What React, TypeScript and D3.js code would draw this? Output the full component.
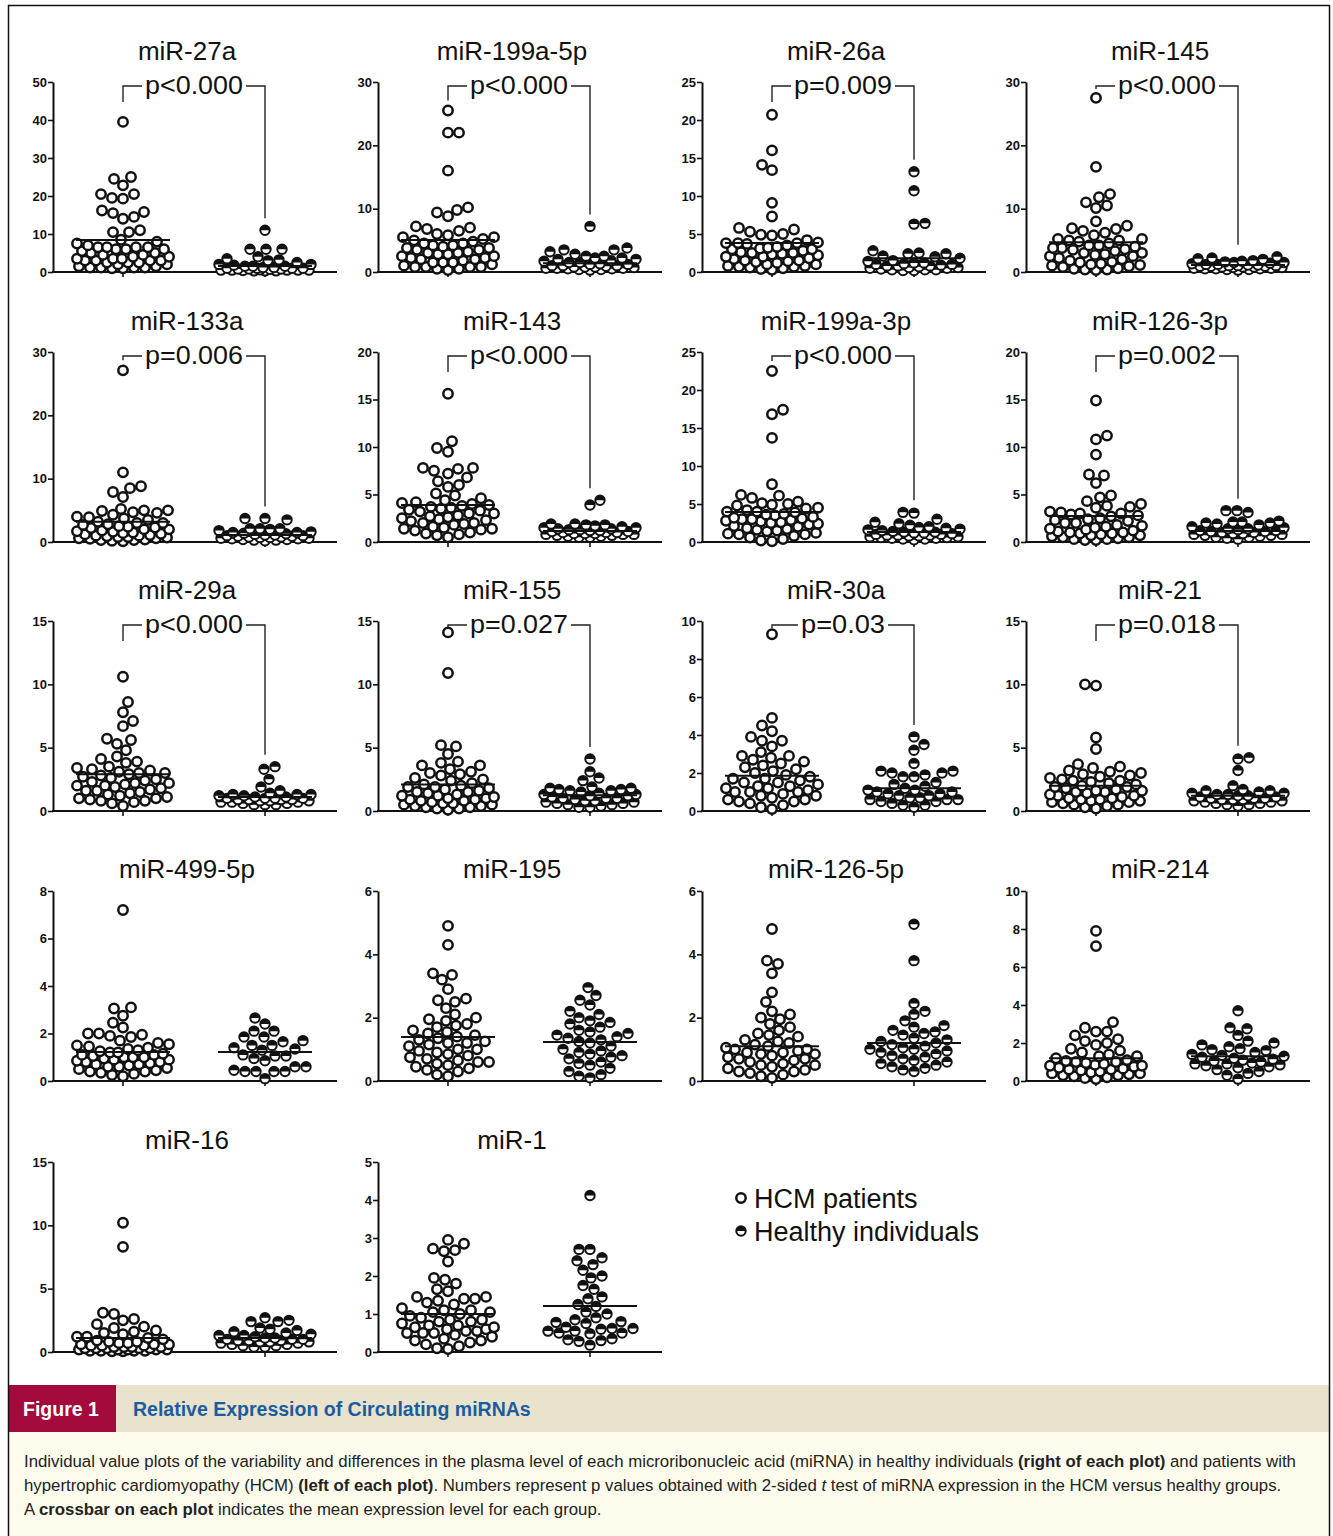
import React, { useEffect, useRef } from "react";
import * as d3 from "d3";

// panel labels and scales
const mirNames = [
  "miR-27a", "miR-199a-5p", "miR-26a", "miR-145",
  "miR-133a", "miR-143", "miR-199a-3p", "miR-126-3p",
  "miR-29a", "miR-155", "miR-30a", "miR-21",
  "miR-499-5p", "miR-195", "miR-126-5p", "miR-214",
  "miR-16", "miR-1",
];
const pLabels = [
  "p<0.000", "p<0.000", "p=0.009", "p<0.000",
  "p=0.006", "p<0.000", "p<0.000", "p=0.002",
  "p<0.000", "p=0.027", "p=0.03", "p=0.018",
  "", "", "", "", "", "",
];
const yMax = [50, 30, 25, 30, 30, 20, 25, 20, 15, 15, 10, 15, 8, 6, 6, 10, 15, 5];
const yStep = [10, 10, 5, 10, 10, 5, 5, 5, 5, 5, 2, 5, 2, 2, 2, 2, 5, 1];
const hcmMeans = [8.4, 5.05, 3.8, 4.7, 3.2, 3.9, 3.95, 2.75, 2.9, 2.1, 1.85, 2.0, 1.22, 1.39, 1.1, 1.2, 1.1, 1.0];
const healthyMeans = [1.6, 1.4, 1.8, 1.1, 1.1, 1.15, 1.3, 1.15, 1.1, 1.25, 1.2, 1.2, 1.22, 1.23, 1.2, 1.3, 1.1, 1.21];

// individual values
const mir27aHcm = [39.5, 25, 24.5, 22.8, 20.5, 20.5, 19.5, 19.3, 16.2, 15.8, 15.5, 14.5, 14, 10.5, 10.5, 11, 8, 7, 6.5, 6.5, 6, 6, 6.5, 6, 5.5, 6.5, 5, 4.5, 4, 4, 3.5, 3, 3, 3.5, 3, 3, 2.5, 2.5, 2, 2, 1.5, 1.5, 1.2, 1.2, 1.2, 1, 1.2, 1, 5, 4.5, 3.5, 2.5, 7.5, 8.5];
const mir27aHealthy = [11, 6, 6, 6, 4, 3.5, 3.2, 3, 2, 2, 1.8, 1.5, 1.5, 1.2, 1.2, 1, 1, 1, 0.8, 0.8, 0.8, 0.5, 0.5, 0.5, 0.5, 0.5, 0.3, 0.3, 0.3, 1.5, 1, 0.7, 2.5, 0.6, 0.4];
const mir199a5pHcm = [25.5, 22, 22, 16, 10.2, 9.8, 9.4, 8.8, 7.2, 7, 6.8, 6.5, 5.8, 5.5, 5.2, 5, 4.8, 4.5, 4.5, 4.2, 4, 3.8, 3.5, 3.5, 3.2, 3, 3, 2.8, 2.5, 2.5, 2.2, 2, 2, 1.8, 1.5, 1.5, 1.2, 1, 0.8, 0.8, 0.8, 0.8, 0.5, 0.5, 0.3, 3.8, 4.2, 2.8, 2.2, 1.5, 5.5, 6];
const mir199a5pHealthy = [7.2, 3.8, 3.5, 3.2, 3.5, 2.8, 2.5, 2.5, 2.2, 2.2, 2, 2, 1.8, 1.5, 1.5, 1.2, 1.2, 1, 1, 1, 0.8, 0.8, 0.8, 0.6, 0.6, 0.6, 0.5, 0.5, 0.4, 0.4, 0.3, 1.3, 1.7, 0.9, 0.7];
const mir26aHcm = [20.7, 16, 14.1, 13.4, 9.1, 7.3, 5.8, 5.6, 5.3, 5, 4.9, 4.8, 3.9, 3.8, 3.8, 3.7, 3.8, 3.5, 3.2, 3.1, 3, 3, 2.8, 2.5, 2.5, 2.3, 2.2, 2, 2, 1.8, 1.5, 1.5, 1.4, 1.3, 1.2, 1, 1, 0.8, 0.8, 0.7, 0.7, 0.6, 0.5, 0.4, 0.3, 2.6, 2.4, 1.7, 4.2, 3.3];
const mir26aHealthy = [13.2, 10.7, 6.3, 6.4, 2.8, 2.5, 2.4, 2.4, 2.1, 2, 1.8, 1.5, 1.2, 1.2, 1, 1, 0.8, 0.8, 0.8, 0.6, 0.6, 0.5, 0.5, 0.4, 0.3, 0.3, 0.3, 0.2, 0.2, 1.4, 1.1, 0.7, 0.9];
const mir145Hcm = [27.5, 16.6, 12.3, 11.8, 11, 10.5, 10.1, 8, 7.3, 6.9, 6.8, 6.5, 6.2, 5.8, 5.2, 5.2, 5, 5, 4.8, 4.5, 4.2, 4, 3.8, 3.8, 3.5, 3.3, 3, 3, 2.8, 2.5, 2.5, 2.2, 2, 1.8, 1.5, 1.3, 1.2, 1.1, 1, 0.8, 0.6, 0.5, 0.4, 0.4, 0.3, 3.6, 2.7, 1.6, 4.2, 0.9];
const mir145Healthy = [2.4, 2.2, 2.1, 2, 1.8, 1.7, 1.6, 1.5, 1.5, 1.4, 1.3, 1.2, 1.2, 1.1, 1, 1, 1, 0.9, 0.9, 0.8, 0.8, 0.8, 0.7, 0.7, 0.6, 0.6, 0.5, 0.5, 0.5, 0.4, 0.4, 0.3, 1.1, 0.9];
const mir133aHcm = [27.1, 11, 8.8, 8.5, 7.9, 7.1, 5.2, 5, 5, 4.9, 4.7, 4.6, 4.3, 4, 3.9, 3.7, 3.5, 3.2, 3, 3, 2.8, 2.7, 2.5, 2.4, 2.2, 2, 2, 1.8, 1.6, 1.5, 1.4, 1.3, 1.2, 1, 1, 0.9, 0.8, 0.7, 0.6, 0.6, 0.5, 0.4, 0.3, 0.3, 0.2, 0.1, 1.7, 2.3, 1.1, 0.8];
const mir133aHealthy = [3.7, 3.5, 3.7, 2.1, 2.1, 2.1, 2, 1.8, 1.5, 1.5, 1.4, 1.3, 1.2, 1.1, 1, 1, 0.9, 0.8, 0.8, 0.7, 0.7, 0.6, 0.6, 0.5, 0.5, 0.4, 0.4, 0.3, 0.3, 0.2, 1.6, 1.1, 0.9];
const mir143Hcm = [15.6, 10.6, 9.9, 9.5, 7.8, 7.8, 7.7, 7.5, 7.2, 6.8, 6.4, 6, 5.8, 5.1, 4.9, 4.6, 4.4, 4.2, 4.1, 4, 3.9, 3.8, 3.7, 3.6, 3.5, 3.3, 3.2, 3, 3, 2.8, 2.7, 2.6, 2.5, 2.3, 2.2, 2, 2, 1.9, 1.8, 1.6, 1.5, 1.4, 1.4, 1.3, 1.2, 1, 0.9, 0.8, 0.7, 0.5, 2.4, 3.4];
const mir143Healthy = [4.4, 3.9, 1.9, 1.9, 1.8, 1.8, 1.7, 1.6, 1.5, 1.5, 1.4, 1.3, 1.3, 1.2, 1.2, 1.1, 1, 1, 1, 0.9, 0.9, 0.8, 0.8, 0.8, 0.7, 0.7, 0.6, 0.6, 0.5, 0.5, 1.1, 1.4, 0.9];
const mir199a3pHcm = [22.5, 17.4, 16.8, 13.7, 7.6, 6.2, 6.1, 5.8, 5.3, 5.1, 5, 4.9, 4.8, 4.5, 4.2, 4, 4, 3.9, 3.7, 3.5, 3.3, 3.2, 3, 3, 2.8, 2.7, 2.6, 2.5, 2.3, 2.1, 2, 1.8, 1.7, 1.5, 1.4, 1.2, 1.1, 1, 1, 0.8, 0.6, 0.4, 0.2, 0.1, 2.4, 3.6, 1.6, 2.9, 4.4, 3.1];
const mir199a3pHealthy = [3.9, 3.8, 3, 2.6, 2.4, 2.2, 2, 1.9, 1.8, 1.7, 1.6, 1.5, 1.4, 1.3, 1.2, 1.1, 1, 1, 0.9, 0.9, 0.8, 0.8, 0.7, 0.7, 0.6, 0.6, 0.5, 0.5, 0.4, 0.4, 0.3, 1.2, 0.9, 1.3];
const mir126_3pHcm = [14.9, 11.2, 10.8, 9.2, 7.1, 7, 6.2, 4.9, 4.7, 4.3, 4, 3.8, 3.7, 3.6, 3.2, 3.1, 3, 3, 2.9, 2.8, 2.7, 2.5, 2.4, 2.2, 2, 2, 1.8, 1.7, 1.5, 1.4, 1.3, 1.2, 1, 1, 0.9, 0.8, 0.7, 0.7, 0.6, 0.5, 0.5, 0.4, 0.3, 0.3, 0.2, 0.2, 1.6, 2.3, 1.1, 0.9];
const mir126_3pHealthy = [3.3, 3.3, 3.1, 2.2, 2.1, 2.1, 2, 2, 1.9, 1.8, 1.6, 1.5, 1.4, 1.3, 1.2, 1.2, 1.1, 1, 1, 0.9, 0.9, 0.8, 0.8, 0.7, 0.7, 0.6, 0.5, 0.5, 0.4, 0.3, 1.4, 1.1];
const mir29aHcm = [10.6, 8.6, 7.8, 7.1, 6.7, 5.7, 5.6, 5.3, 4.8, 4.3, 4.1, 3.9, 3.8, 3.5, 3.4, 3.3, 3.2, 3.1, 3, 3, 2.9, 2.8, 2.7, 2.6, 2.5, 2.4, 2.3, 2.2, 2.2, 2, 2, 1.9, 1.8, 1.7, 1.6, 1.5, 1.4, 1.3, 1.2, 1.1, 1, 1, 0.9, 0.8, 0.8, 0.7, 0.6, 0.4, 2.1, 1.6];
const mir29aHealthy = [3.5, 3.3, 2.5, 1.9, 1.6, 1.4, 1.3, 1.3, 1.3, 1.2, 1.2, 1.1, 1.1, 1, 1, 1, 0.9, 0.9, 0.9, 0.8, 0.8, 0.8, 0.7, 0.7, 0.7, 0.6, 0.6, 0.5, 0.5, 0.5, 1, 0.9];
const mir155Hcm = [14.1, 10.9, 5.2, 5.1, 4.5, 3.9, 3.8, 3.6, 3.6, 3.3, 3.1, 3, 2.9, 2.8, 2.6, 2.5, 2.4, 2.2, 2.1, 2, 1.9, 1.9, 1.8, 1.7, 1.6, 1.5, 1.4, 1.3, 1.2, 1.1, 1, 1, 0.9, 0.9, 0.8, 0.7, 0.6, 0.6, 0.5, 0.5, 0.4, 0.4, 0.3, 0.3, 0.2, 0.2, 0.1, 1.2, 1.5, 0.8];
const mir155Healthy = [4.1, 3.1, 2.6, 2.4, 1.9, 1.8, 1.8, 1.7, 1.7, 1.6, 1.6, 1.5, 1.4, 1.3, 1.2, 1.2, 1.1, 1, 1, 0.9, 0.8, 0.8, 0.7, 0.7, 0.6, 0.6, 0.5, 0.5, 0.4, 0.3, 0.3, 1.3, 1];
const mir30aHcm = [9.3, 4.9, 4.5, 4.2, 3.9, 3.7, 3.7, 3.4, 3.1, 2.9, 2.9, 2.8, 2.7, 2.6, 2.5, 2.4, 2.3, 2.2, 2.1, 2, 1.9, 1.8, 1.7, 1.7, 1.6, 1.5, 1.4, 1.3, 1.2, 1.2, 1.1, 1, 1, 0.9, 0.8, 0.8, 0.7, 0.6, 0.5, 0.5, 0.4, 0.3, 0.2, 0.1, 1.3, 1.5, 1, 0.6];
const mir30aHealthy = [3.9, 3.5, 3.2, 2.5, 2.1, 2.1, 2, 2, 1.9, 1.8, 1.8, 1.5, 1.4, 1.3, 1.2, 1.1, 1, 1, 0.9, 0.9, 0.8, 0.8, 0.7, 0.7, 0.6, 0.6, 0.5, 0.5, 0.4, 0.3, 0.3, 0.2, 1.1, 0.6];
const mir21Hcm = [10, 9.9, 5.8, 4.9, 3.7, 3.5, 3.4, 3.2, 3.1, 3, 2.9, 2.8, 2.7, 2.6, 2.5, 2.4, 2.3, 2.2, 2.1, 2, 1.9, 1.9, 1.8, 1.7, 1.6, 1.5, 1.5, 1.4, 1.3, 1.2, 1.1, 1, 1, 0.9, 0.9, 0.8, 0.7, 0.7, 0.6, 0.5, 0.5, 0.4, 0.3, 0.2, 1.2, 1.6, 2.4, 0.8];
const mir21Healthy = [4.2, 4.1, 3.2, 2, 1.7, 1.6, 1.6, 1.5, 1.4, 1.4, 1.3, 1.3, 1.2, 1.2, 1.1, 1, 1, 1, 0.9, 0.9, 0.8, 0.8, 0.7, 0.7, 0.6, 0.6, 0.5, 0.5, 0.4, 1.1, 0.9];
const mir499Hcm = [7.2, 3.1, 3.05, 2.75, 2.45, 2.25, 2, 2, 1.95, 1.9, 1.85, 1.7, 1.6, 1.55, 1.5, 1.45, 1.4, 1.35, 1.3, 1.25, 1.2, 1.15, 1.1, 1.1, 1.05, 1, 1, 0.95, 0.9, 0.9, 0.85, 0.8, 0.8, 0.75, 0.7, 0.65, 0.6, 0.6, 0.55, 0.5, 0.45, 0.4, 0.4, 0.35, 0.3, 0.25, 0.2, 1.0, 0.7, 1.2];
const mir499Healthy = [2.65, 2.4, 2.1, 2.1, 1.85, 1.85, 1.7, 1.65, 1.5, 1.5, 1.4, 1.35, 1.3, 1.1, 1.05, 1.05, 0.95, 0.85, 0.6, 0.6, 0.45, 0.4, 0.4, 0.4, 0.4, 0.1];
const mir195Hcm = [4.9, 4.3, 3.4, 3.35, 3.2, 2.9, 2.6, 2.55, 2.5, 2.3, 2.1, 2, 1.95, 1.9, 1.8, 1.75, 1.7, 1.6, 1.55, 1.5, 1.45, 1.4, 1.3, 1.25, 1.2, 1.15, 1.1, 1, 1, 0.95, 0.9, 0.85, 0.8, 0.75, 0.7, 0.65, 0.6, 0.55, 0.5, 0.45, 0.4, 0.35, 0.3, 0.2, 0.15, 1.2, 1.35, 0.6];
const mir195Healthy = [2.95, 2.7, 2.55, 2.4, 2.2, 2.1, 2, 1.9, 1.85, 1.8, 1.7, 1.6, 1.55, 1.5, 1.4, 1.35, 1.3, 1.25, 1.2, 1.1, 1, 0.95, 0.9, 0.85, 0.8, 0.7, 0.6, 0.55, 0.5, 0.4, 0.3, 0.2, 0.15, 0.1, 1.45, 0.75];
const mir126_5pHcm = [4.8, 3.8, 3.7, 3.4, 2.8, 2.5, 2.2, 2.1, 2, 1.95, 1.8, 1.7, 1.6, 1.5, 1.45, 1.4, 1.3, 1.25, 1.2, 1.1, 1.05, 1, 0.95, 0.9, 0.9, 0.85, 0.8, 0.75, 0.7, 0.65, 0.6, 0.55, 0.5, 0.45, 0.4, 0.35, 0.3, 0.3, 0.25, 0.2, 0.15, 0.1, 1.0, 0.7, 0.5, 1.15, 0.85];
const mir126_5pHealthy = [4.95, 3.8, 2.45, 2.2, 2.1, 1.9, 1.75, 1.7, 1.6, 1.55, 1.5, 1.45, 1.35, 1.3, 1.2, 1.15, 1.1, 1.05, 1, 0.95, 0.9, 0.85, 0.8, 0.75, 0.7, 0.65, 0.6, 0.55, 0.5, 0.45, 0.4, 0.35, 0.3, 1.25, 1.0];
const mir214Hcm = [7.9, 7.1, 3.1, 2.8, 2.6, 2.6, 2.4, 2.2, 2.1, 2, 1.9, 1.7, 1.6, 1.5, 1.4, 1.3, 1.2, 1.1, 1.05, 1, 0.95, 0.9, 0.85, 0.8, 0.75, 0.7, 0.65, 0.6, 0.55, 0.5, 0.45, 0.4, 0.35, 0.3, 0.25, 0.2, 0.15, 0.1, 0.6, 0.8, 1.0, 0.4, 1.3, 0.3];
const mir214Healthy = [3.7, 2.8, 2.75, 2.4, 2.1, 2, 1.9, 1.8, 1.7, 1.65, 1.6, 1.5, 1.4, 1.35, 1.3, 1.2, 1.15, 1.1, 1.05, 1, 0.95, 0.9, 0.85, 0.8, 0.75, 0.7, 0.6, 0.5, 0.4, 0.3, 0.1, 1.25, 0.9];
const mir16Hcm = [10.2, 8.3, 3.1, 3, 2.6, 2.5, 2.2, 2, 1.9, 1.7, 1.6, 1.5, 1.4, 1.2, 1.1, 1, 0.9, 0.8, 0.8, 0.7, 0.7, 0.6, 0.6, 0.5, 0.5, 0.5, 0.4, 0.4, 0.4, 0.3, 0.3, 0.3, 0.3, 0.2, 0.2, 0.2, 0.2, 0.1, 0.1, 0.1, 0.1, 0.05, 0.05, 0.6, 0.3, 0.2, 0.4, 1.2];
const mir16Healthy = [2.7, 2.5, 2.4, 2.4, 1.9, 1.8, 1.7, 1.6, 1.5, 1.4, 1.3, 1.3, 1.2, 1.1, 1.1, 1, 1, 0.9, 0.9, 0.8, 0.8, 0.8, 0.7, 0.7, 0.6, 0.6, 0.5, 0.5, 0.4, 0.4, 1, 0.9];
const mir1Hcm = [2.95, 2.85, 2.72, 2.68, 2.65, 2.38, 1.95, 1.9, 1.8, 1.65, 1.6, 1.45, 1.45, 1.4, 1.4, 1.35, 1.3, 1.25, 1.15, 1.1, 1.1, 1.05, 1.05, 1, 0.95, 0.9, 0.85, 0.8, 0.8, 0.75, 0.7, 0.7, 0.65, 0.65, 0.6, 0.55, 0.55, 0.5, 0.5, 0.45, 0.4, 0.35, 0.3, 0.3, 0.25, 0.2, 0.15, 0.1, 0.08, 0.6, 0.85, 0.5];
const mir1Healthy = [4.12, 2.7, 2.7, 2.48, 2.4, 2.3, 2.15, 2, 1.95, 1.75, 1.65, 1.45, 1.4, 1.25, 1.2, 1.05, 1, 0.9, 0.85, 0.8, 0.78, 0.75, 0.65, 0.62, 0.62, 0.6, 0.55, 0.55, 0.5, 0.5, 0.48, 0.35, 0.32, 0.3, 0.28, 0.18];

const hcmValues = [
  mir27aHcm, mir199a5pHcm, mir26aHcm, mir145Hcm,
  mir133aHcm, mir143Hcm, mir199a3pHcm, mir126_3pHcm,
  mir29aHcm, mir155Hcm, mir30aHcm, mir21Hcm,
  mir499Hcm, mir195Hcm, mir126_5pHcm, mir214Hcm,
  mir16Hcm, mir1Hcm,
];
const healthyValues = [
  mir27aHealthy, mir199a5pHealthy, mir26aHealthy, mir145Healthy,
  mir133aHealthy, mir143Healthy, mir199a3pHealthy, mir126_3pHealthy,
  mir29aHealthy, mir155Healthy, mir30aHealthy, mir21Healthy,
  mir499Healthy, mir195Healthy, mir126_5pHealthy, mir214Healthy,
  mir16Healthy, mir1Healthy,
];
const groups = ["HCM", "Healthy"];
const legendLabels = ["HCM patients", "Healthy individuals"];

const W = 1333;
const H = 1536;
const colX = [53, 378, 702, 1026];
const rowBase = [272, 542, 811, 1081, 1352];
const axisW = 284;
const plotH = 190;
const R = 4.7;
const FONT = "'Liberation Sans', Arial, Helvetica, sans-serif";

// simple beeswarm: lowest values placed first, as close to the centre as possible
function swarm(vals: number[], y: (v: number) => number, maxHalf: number) {
  const d = 2 * R + 1.6;
  const pts = vals.map((v) => ({ v, y: y(v), x: 0 })).sort((a, b) => b.y - a.y);
  const placed: { x: number; y: number }[] = [];
  const offsets: number[] = [0];
  for (let k = 1; k <= maxHalf; k++) offsets.push(k, -k);
  pts.forEach((p, i) => {
    let best = 0;
    let bestScore = -1;
    let found = false;
    for (const off of offsets) {
      const o = i % 2 ? -off : off;
      let minD = Infinity;
      for (const q of placed) {
        const dy = q.y - p.y;
        if (Math.abs(dy) >= d) continue;
        const dist = Math.hypot(q.x - o, dy);
        if (dist < minD) minD = dist;
      }
      if (minD >= d) {
        best = o;
        found = true;
        break;
      }
      if (minD > bestScore) {
        bestScore = minD;
        best = o;
      }
    }
    if (!found && bestScore < 0) best = 0;
    p.x = best;
    placed.push({ x: best, y: p.y });
  });
  return pts;
}

export default function App() {
  const ref = useRef<SVGSVGElement>(null);

  useEffect(() => {
    const svg = d3.select(ref.current);
    svg.selectAll("*").remove();

    svg.append("rect").attr("width", W).attr("height", H).attr("fill", "#fff");

    mirNames.forEach((name, i) => {
      const col = i % 4;
      const row = Math.floor(i / 4);
      const x0 = colX[col];
      const base = rowBase[row];
      const top = base - plotH;
      const g = svg.append("g");

      const y = d3.scaleLinear().domain([0, yMax[i]]).range([base, top]);
      const x = d3.scalePoint().domain(groups).range([x0 + 70, x0 + 212]);

      // y axis
      const ya = g
        .append("g")
        .attr("transform", `translate(${x0},0)`)
        .call(
          d3
            .axisLeft(y)
            .tickValues(d3.range(0, yMax[i] + yStep[i] / 2, yStep[i]))
            .tickSize(5)
            .tickSizeOuter(0)
            .tickFormat(d3.format("d"))
        );
      ya.select(".domain").attr("stroke", "#111").attr("stroke-width", 2);
      ya.selectAll(".tick line").attr("stroke", "#111").attr("stroke-width", 1.6);
      ya.selectAll(".tick text")
        .attr("font-family", FONT)
        .attr("font-weight", "bold")
        .attr("font-size", 13)
        .attr("fill", "#111")
        .attr("x", -6);

      // x axis
      g.append("line")
        .attr("x1", x0 - 1)
        .attr("x2", x0 + axisW)
        .attr("y1", base)
        .attr("y2", base)
        .attr("stroke", "#111")
        .attr("stroke-width", 2);
      groups.forEach((gr) => {
        g.append("line")
          .attr("x1", x(gr)!)
          .attr("x2", x(gr)!)
          .attr("y1", base)
          .attr("y2", base + 5)
          .attr("stroke", "#111")
          .attr("stroke-width", 1.6);
      });

      // title
      const hasP = pLabels[i] !== "";
      g.append("text")
        .attr("x", (x("HCM")! + x("Healthy")!) / 2 - 7)
        .attr("y", hasP ? top - 22 : top - 13)
        .attr("text-anchor", "middle")
        .attr("font-family", FONT)
        .attr("font-size", 26)
        .attr("fill", "#111")
        .text(name);

      // points
      const hcmPts = swarm(hcmValues[i], y, 46);
      const healthyPts = swarm(healthyValues[i], y, 46);
      hcmPts.forEach((p) => {
        g.append("circle")
          .attr("cx", x("HCM")! + p.x)
          .attr("cy", p.y)
          .attr("r", R)
          .attr("fill", "#fff")
          .attr("stroke", "#111")
          .attr("stroke-width", 2.5);
      });
      healthyPts.forEach((p) => {
        const cx = x("Healthy")! + p.x;
        g.append("circle")
          .attr("cx", cx)
          .attr("cy", p.y)
          .attr("r", R)
          .attr("fill", "#fff")
          .attr("stroke", "#111")
          .attr("stroke-width", 2);
        g.append("path")
          .attr("d", `M${cx - R},${p.y} A${R},${R} 0 0 1 ${cx + R},${p.y} Z`)
          .attr("fill", "#111");
      });

      // mean crossbars
      [
        ["HCM", hcmMeans[i]],
        ["Healthy", healthyMeans[i]],
      ].forEach(([gr, m]) => {
        const cx = x(gr as string)!;
        g.append("line")
          .attr("x1", cx - 47)
          .attr("x2", cx + 47)
          .attr("y1", y(m as number))
          .attr("y2", y(m as number))
          .attr("stroke", "#111")
          .attr("stroke-width", 2);
      });

      // p-value bracket
      if (hasP) {
        const by = top + 4;
        const c1 = x("HCM")!;
        const c2 = x("Healthy")!;
        const mid = (c1 + c2) / 2;
        const leftEnd = Math.max(by + 3, Math.min(by + 16, y(d3.max(hcmValues[i])!) - 10));
        const rightEnd = y(d3.max(healthyValues[i])!) - 12;
        g.append("path")
          .attr("d", `M${c1},${leftEnd} V${by} H${c2} V${rightEnd}`)
          .attr("fill", "none")
          .attr("stroke", "#222")
          .attr("stroke-width", 1.4);
        const tw = pLabels[i].length * 14;
        g.append("rect")
          .attr("x", mid - tw / 2 - 3)
          .attr("y", by - 6)
          .attr("width", tw + 6)
          .attr("height", 12)
          .attr("fill", "#fff");
        g.append("text")
          .attr("x", mid)
          .attr("y", top + 12)
          .attr("text-anchor", "middle")
          .attr("font-family", FONT)
          .attr("font-size", 26)
          .attr("textLength", tw)
          .attr("lengthAdjust", "spacingAndGlyphs")
          .attr("fill", "#111")
          .text(pLabels[i]);
      }
    });

    // legend
    legendLabels.forEach((lab, k) => {
      const ly = 1198 + k * 33;
      const lx = 741;
      svg.append("circle")
        .attr("cx", lx)
        .attr("cy", ly)
        .attr("r", R)
        .attr("fill", "#fff")
        .attr("stroke", "#111")
        .attr("stroke-width", k === 0 ? 2.5 : 2);
      if (k === 1) {
        svg.append("path")
          .attr("d", `M${lx - R},${ly} A${R},${R} 0 0 1 ${lx + R},${ly} Z`)
          .attr("fill", "#111");
      }
      svg.append("text")
        .attr("x", lx + 13)
        .attr("y", ly + 10)
        .attr("font-family", FONT)
        .attr("font-size", 27)
        .attr("fill", "#111")
        .text(lab);
    });

    // caption
    svg.append("rect").attr("x", 8).attr("y", 1385).attr("width", 1322).attr("height", 47).attr("fill", "#e9e2cd");
    svg.append("rect").attr("x", 8).attr("y", 1385).attr("width", 108).attr("height", 47).attr("fill", "#a50a3c");
    svg.append("rect").attr("x", 8).attr("y", 1432).attr("width", 1322).attr("height", 110).attr("fill", "#fdfbeb");
    svg.append("text")
      .attr("x", 23)
      .attr("y", 1416)
      .attr("font-family", FONT)
      .attr("font-weight", "bold")
      .attr("font-size", 19.5)
      .attr("fill", "#fff")
      .text("Figure 1");
    svg.append("text")
      .attr("x", 133)
      .attr("y", 1416)
      .attr("font-family", FONT)
      .attr("font-weight", "bold")
      .attr("font-size", 19.5)
      .attr("fill", "#1b5c9f")
      .text("Relative Expression of Circulating miRNAs");

    const lines: [string, string][][] = [
      [
        ["Individual value plots of the variability and differences in the plasma level of each microribonucleic acid (miRNA) in healthy individuals ", "normal"],
        ["(right of each plot)", "bold"],
        [" and patients with", "normal"],
      ],
      [
        ["hypertrophic cardiomyopathy (HCM) ", "normal"],
        ["(left of each plot)", "bold"],
        [". Numbers represent p values obtained with 2-sided ", "normal"],
        ["t", "italic"],
        [" test of miRNA expression in the HCM versus healthy groups.", "normal"],
      ],
      [
        ["A ", "normal"],
        ["crossbar on each plot", "bold"],
        [" indicates the mean expression level for each group.", "normal"],
      ],
    ];
    lines.forEach((parts, k) => {
      const t = svg.append("text")
        .attr("x", 24)
        .attr("y", 1467 + k * 24)
        .attr("font-family", FONT)
        .attr("font-size", 16.8)
        .attr("fill", "#222");
      parts.forEach(([s, st]) => {
        const sp = t.append("tspan").text(s);
        if (st === "bold") sp.attr("font-weight", "bold");
        if (st === "italic") sp.attr("font-style", "italic");
      });
    });

    // frame
    svg.append("path")
      .attr("d", `M8.5,${H} V5.5 H1329.5 V${H}`)
      .attr("fill", "none")
      .attr("stroke", "#111")
      .attr("stroke-width", 1.5);
  }, []);

  return (
    <svg
      ref={ref}
      width={W}
      height={H}
      style={{ position: "absolute", left: 0, top: 0, display: "block" }}
    />
  );
}
